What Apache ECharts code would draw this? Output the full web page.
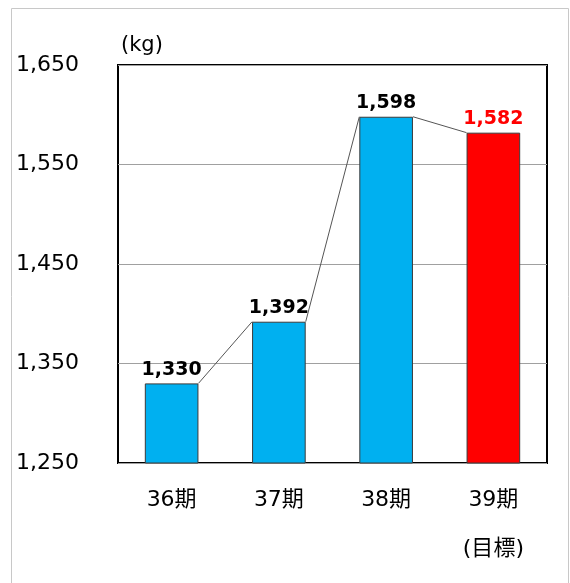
<!DOCTYPE html>
<html><head><meta charset="utf-8">
<script src="https://cdn.jsdelivr.net/npm/echarts@6/dist/echarts.min.js"></script>
<style>html,body{margin:0;padding:0;background:#fff}#c{width:570px;height:583px}</style>
</head><body><div id="c"></div>
<script>
const categories = ['36期', '37期', '38期', '39期\n(目標)'];
const values = [1330, 1392, 1598, 1582];
const barColors = ['#00B0F0', '#00B0F0', '#00B0F0', '#FF0000'];
const labelColors = ['#000000', '#000000', '#000000', '#FF0000'];
const yMin = 1250, yMax = 1650, yStep = 100;
const unitLabel = '(kg)';

const font = 'DejaVu Sans, Verdana, "Noto Sans CJK JP", sans-serif';
const chart = echarts.init(document.getElementById('c'));
chart.setOption({
  animation: false,
  backgroundColor: '#fff',
  grid: { left: 118, right: 23, top: 65, bottom: 120, show: true, borderColor: '#000', borderWidth: 2, backgroundColor: 'transparent' },
  graphic: [
    { type: 'rect', shape: { x: 11.5, y: 8.5, width: 557, height: 640 }, style: { fill: 'none', stroke: '#c8c8c8', lineWidth: 1 }, z: -10 },
    { type: 'text', left: 121, top: 35, style: { text: unitLabel, font: '21px ' + font, fill: '#000' } }
  ],
  xAxis: {
    type: 'category', data: categories,
    axisLine: { show: false }, axisTick: { show: false },
    axisLabel: { fontFamily: font, fontSize: 22, color: '#000', lineHeight: 49, margin: 13 }
  },
  yAxis: {
    type: 'value', min: yMin, max: yMax, interval: yStep,
    axisLine: { show: false }, axisTick: { show: false },
    splitLine: { lineStyle: { color: '#a0a0a0', width: 1 } },
    axisLabel: {
      fontFamily: font, fontSize: 22, color: '#000', align: 'left', margin: 102,
      padding: [0, 0, 5, 0],
      formatter: v => v.toLocaleString('en-US')
    }
  },
  series: [
    {
      type: 'bar', barWidth: '50%',
      data: values.map((v, i) => ({
        value: v,
        itemStyle: { color: barColors[i], borderColor: '#3a3a3a', borderWidth: 1 },
        label: { color: labelColors[i] }
      })),
      label: {
        show: true, position: 'top', distance: 4,
        fontFamily: font, fontSize: 19, fontWeight: 'bold',
        formatter: p => p.value.toLocaleString('en-US')
      },
      z: 2
    },
    {
      type: 'custom',
      data: values.slice(0, -1).map((v, i) => [i, v, i + 1, values[i + 1]]),
      renderItem: (params, api) => {
        const p1 = api.coord([api.value(0), api.value(1)]);
        const p2 = api.coord([api.value(2), api.value(3)]);
        const hw = api.size([1, 0])[0] * 0.25;
        return {
          type: 'line',
          shape: { x1: p1[0] + hw, y1: p1[1], x2: p2[0] - hw, y2: p2[1] },
          style: { stroke: '#555', lineWidth: 1 }
        };
      },
      encode: { x: 0, y: 1 },
      z: 3, silent: true
    }
  ]
});
</script></body></html>
